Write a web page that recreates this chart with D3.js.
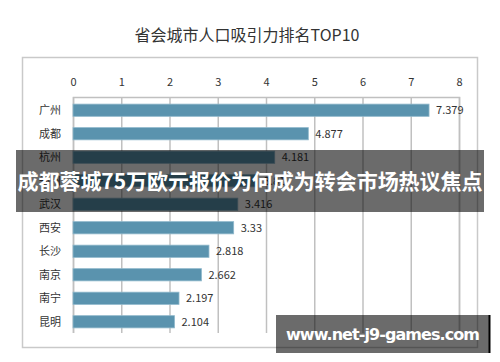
<!DOCTYPE html>
<html>
<head>
<meta charset="utf-8">
<script src="https://cdn.jsdelivr.net/npm/d3@7"></script>
<style>
  body { margin: 0; background: #fff; }
  svg { display: block; }
</style>
</head>
<body>
<script>
// city names and their scores (top to bottom)
var cities = ["广州", "成都", "杭州", "郑州", "武汉", "西安", "长沙", "南京", "南宁", "昆明"];
var scores = [7.379, 4.877, 4.181, 3.81, 3.416, 3.33, 2.818, 2.662, 2.197, 2.104];
var tickValues = [0, 1, 2, 3, 4, 5, 6, 7, 8];

var w = 500, h = 362;
var font = "'Noto Sans CJK SC', 'Noto Sans', sans-serif";

var svg = d3.select("body")
  .append("svg")
  .attr("width", w)
  .attr("height", h);

svg.append("rect")
  .attr("width", w)
  .attr("height", h)
  .attr("fill", "#fff");

// title
svg.append("text")
  .attr("x", 247)
  .attr("y", 41)
  .attr("text-anchor", "middle")
  .attr("font-family", font)
  .attr("font-size", 16)
  .attr("fill", "#333")
  .text("省会城市人口吸引力排名TOP10");

// outer frame
svg.append("rect")
  .attr("x", 22.5)
  .attr("y", 57.5)
  .attr("width", 455)
  .attr("height", 290)
  .attr("fill", "none")
  .attr("stroke", "#c9c9c9")
  .attr("stroke-width", 1.5);

var x = d3.scaleLinear().domain([0, 8]).range([73, 459]);
var y = d3.scaleBand().domain(cities).range([98, 334]).paddingInner(0.48).paddingOuter(0.26);

// top axis with full-height gridlines
var gTop = 97, gBottom = 333;
var grid = svg.append("g").attr("transform", "translate(0," + gTop + ")")
  .call(d3.axisTop(x).tickValues(tickValues).tickSize(-(gBottom - gTop)).tickPadding(11).tickFormat(d3.format("d")));
grid.select(".domain").attr("stroke", "#c0c0c0").attr("stroke-width", 1.5);
grid.selectAll(".tick line").attr("stroke", "#c0c0c0").attr("stroke-width", 1.5);
grid.selectAll(".tick text")
  .attr("font-family", font)
  .attr("font-size", 11)
  .attr("fill", "#333");

// bars
svg.selectAll(".bar")
  .data(cities)
  .enter().append("rect")
  .attr("class", "bar")
  .attr("x", x(0))
  .attr("y", function(d){ return y(d); })
  .attr("width", function(d, i){ return x(scores[i]) - x(0); })
  .attr("height", y.bandwidth())
  .attr("fill", "#5a93ae")
  .attr("stroke", "#8fb8cb")
  .attr("stroke-width", 0.8);

// category labels
svg.selectAll(".cat")
  .data(cities)
  .enter().append("text")
  .attr("x", 61)
  .attr("y", function(d){ return y(d) + y.bandwidth() / 2; })
  .attr("dy", "0.35em")
  .attr("text-anchor", "end")
  .attr("font-family", font)
  .attr("font-size", 11)
  .attr("fill", "#333")
  .text(function(d){ return d; });

// value labels
svg.selectAll(".val")
  .data(cities)
  .enter().append("text")
  .attr("x", function(d, i){ return x(scores[i]) + 7; })
  .attr("y", function(d){ return y(d) + y.bandwidth() / 2; })
  .attr("dy", "0.35em")
  .attr("font-family", font)
  .attr("font-size", 11)
  .attr("fill", "#333")
  .text(function(d, i){ return scores[i]; });

// banner overlay
svg.append("rect")
  .attr("x", 16)
  .attr("y", 150)
  .attr("width", 468)
  .attr("height", 62)
  .attr("fill", "rgba(0,0,0,0.58)");

svg.append("text")
  .attr("x", 250)
  .attr("y", 189)
  .attr("text-anchor", "middle")
  .attr("font-family", font)
  .attr("font-weight", "bold")
  .attr("font-size", 21)
  .attr("textLength", 465)
  .attr("fill", "#fff")
  .text("成都蓉城75万欧元报价为何成为转会市场热议焦点");

// watermark
svg.append("rect")
  .attr("x", 276)
  .attr("y", 315)
  .attr("width", 213)
  .attr("height", 38)
  .attr("fill", "rgba(0,0,0,0.58)");

svg.append("line")
  .attr("x1", 489.5).attr("x2", 489.5)
  .attr("y1", 315).attr("y2", 353)
  .attr("stroke", "#000")
  .attr("stroke-width", 2);

svg.append("text")
  .attr("x", 286)
  .attr("y", 340)
  .attr("font-family", "'DejaVu Sans', sans-serif")
  .attr("font-weight", "bold")
  .attr("font-size", 16)
  .attr("textLength", 194)
  .attr("fill", "#fff")
  .text("www.net-j9-games.com");
</script>
</body>
</html>
